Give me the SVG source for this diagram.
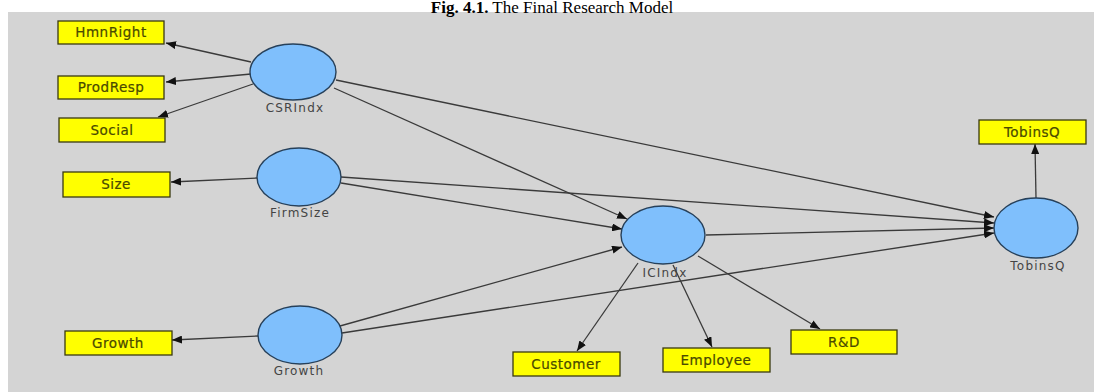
<svg xmlns="http://www.w3.org/2000/svg" width="1094" height="392" viewBox="0 0 1094 392">
<defs>
<marker id="ah" viewBox="0 0 10 8" refX="10" refY="4" markerWidth="10" markerHeight="8" markerUnits="userSpaceOnUse" orient="auto">
<path d="M0,0 L10,4 L0,8 Z" fill="#111"/>
</marker>
<style>
.ind rect{fill:#ffff00;stroke:#3a3a10;stroke-width:1.3}
.ind text{font-family:"DejaVu Sans",Verdana,sans-serif;font-size:13.5px;fill:#4a4a00;text-anchor:middle;letter-spacing:0.5px;stroke:#4a4a00;stroke-width:0.2}
.lv ellipse{fill:#7fbffc;stroke:#26405a;stroke-width:1.4}
.lv text{font-family:"DejaVu Sans",Verdana,sans-serif;font-size:12px;fill:#444;text-anchor:middle;letter-spacing:1.2px}
#connectors line{stroke:#3a3a3a;stroke-width:1.3;marker-end:url(#ah)}
</style>
</defs>
<rect x="0" y="0" width="1094" height="392" fill="#ffffff"/>
<rect x="8" y="12" width="1086" height="380" fill="#d4d4d4"/>
<text x="552" y="13" font-family="'Liberation Serif',serif" font-size="17" text-anchor="middle" fill="#000"><tspan font-weight="bold">Fig. 4.1.</tspan> The Final Research Model</text>
<g id="connectors">
<line x1="251" y1="62" x2="166" y2="43"/>
<line x1="251" y1="74" x2="166" y2="82"/>
<line x1="253" y1="84" x2="158" y2="117"/>
<line x1="257" y1="178" x2="171" y2="182"/>
<line x1="258" y1="336" x2="172" y2="340"/>
<line x1="334" y1="88" x2="627" y2="219"/>
<line x1="341" y1="183" x2="622" y2="229"/>
<line x1="340" y1="326" x2="622" y2="247"/>
<line x1="336" y1="80" x2="994" y2="217"/>
<line x1="341" y1="177" x2="994" y2="223"/>
<line x1="706" y1="235" x2="994" y2="228"/>
<line x1="342" y1="333" x2="994" y2="233"/>
<line x1="638" y1="263" x2="577" y2="351"/>
<line x1="673" y1="265" x2="712" y2="347"/>
<line x1="698" y1="256" x2="820" y2="329"/>
<line x1="1036" y1="198" x2="1035" y2="144"/>
</g>
<g id="HmnRight" class="ind"><rect x="58" y="21" width="106" height="23"/><text x="111" y="37">HmnRight</text></g>
<g id="ProdResp" class="ind"><rect x="58" y="76" width="106" height="23"/><text x="111" y="92">ProdResp</text></g>
<g id="Social" class="ind"><rect x="59" y="118" width="106" height="24"/><text x="112" y="135">Social</text></g>
<g id="Size" class="ind"><rect x="63" y="172" width="107" height="25"/><text x="116" y="189">Size</text></g>
<g id="GrowthInd" class="ind"><rect x="65" y="331" width="107" height="24"/><text x="118" y="348">Growth</text></g>
<g id="Customer" class="ind"><rect x="513" y="352" width="107" height="24"/><text x="566" y="369">Customer</text></g>
<g id="Employee" class="ind"><rect x="663" y="348" width="107" height="24"/><text x="716" y="365">Employee</text></g>
<g id="RD" class="ind"><rect x="791" y="330" width="106" height="24"/><text x="844" y="347">R&amp;D</text></g>
<g id="TobinsQInd" class="ind"><rect x="979" y="120" width="107" height="24"/><text x="1032" y="137">TobinsQ</text></g>
<g id="CSRIndx" class="lv"><ellipse cx="293" cy="72" rx="43" ry="28"/><text x="295" y="112">CSRIndx</text></g>
<g id="FirmSize" class="lv"><ellipse cx="299" cy="177" rx="42" ry="29"/><text x="300" y="217">FirmSize</text></g>
<g id="Growth" class="lv"><ellipse cx="300" cy="335" rx="42" ry="29"/><text x="299" y="375">Growth</text></g>
<g id="ICIndx" class="lv"><ellipse cx="663" cy="235" rx="42" ry="29"/><text x="665" y="277">ICIndx</text></g>
<g id="TobinsQ" class="lv"><ellipse cx="1036" cy="228" rx="42" ry="30"/><text x="1038" y="270">TobinsQ</text></g>
</svg>
